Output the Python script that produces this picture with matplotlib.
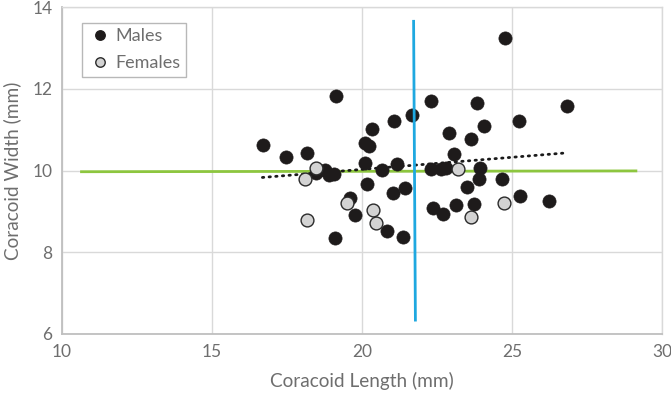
import matplotlib
matplotlib.use("Agg")
import matplotlib.pyplot as plt
from matplotlib.lines import Line2D

plt.rcParams['font.family'] = ['Lato', 'DejaVu Sans']

male_x = [16.69, 17.45, 18.16, 19.13, 20.11, 20.22, 20.34, 21.06, 21.67, 22.30,
          23.83, 24.77, 25.24, 24.08, 22.90, 23.63, 23.07, 26.82, 26.24,
          18.45, 18.75, 18.90, 19.08, 20.11, 20.67, 21.17, 20.16, 21.03, 21.44,
          19.61, 19.77, 20.84, 19.11, 21.38,
          22.30, 22.64, 22.80, 23.93, 23.91, 23.49, 24.67, 25.26, 22.36, 22.71,
          23.13, 23.74]
male_y = [10.63, 10.32, 10.44, 11.82, 10.68, 10.59, 11.02, 11.20, 11.36, 11.69,
          11.64, 13.24, 11.20, 11.09, 10.92, 10.77, 10.40, 11.57, 9.26,
          9.94, 10.01, 9.88, 9.92, 10.19, 10.02, 10.15, 9.67, 9.45, 9.56,
          9.32, 8.91, 8.53, 8.34, 8.37,
          10.04, 10.04, 10.07, 10.07, 9.80, 9.60, 9.78, 9.37, 9.09, 8.93,
          9.15, 9.19]

female_x = [18.48, 18.09, 19.51, 18.16, 20.38, 20.47, 23.20, 24.73, 23.63]
female_y = [10.05, 9.78, 9.21, 8.80, 9.04, 8.72, 10.04, 9.21, 8.87]

trend_x = [16.68, 26.80]
trend_y = [9.83, 10.43]
green_x = [10.65, 29.13]
green_y = [9.97, 9.99]
blue_x = [21.72, 21.78]
blue_y = [13.65, 6.34]

text_color = '#6e6e6e'

fig = plt.figure(figsize=(6.71, 3.94), dpi=100)
ax = fig.add_axes([62/671, 1-334/394, 600/671, 327/394])

ax.set_xlim(10, 30)
ax.set_ylim(6, 14)
ax.set_xticks([10, 15, 20, 25, 30])
ax.set_yticks([6, 8, 10, 12, 14])
ax.grid(True, color='#d9d9d9', linewidth=1.0)
ax.set_axisbelow(True)
for s in ['top', 'right']:
    ax.spines[s].set_color('#d9d9d9')
    ax.spines[s].set_linewidth(1.0)
for s in ['left', 'bottom']:
    ax.spines[s].set_color('#bfbfbf')
    ax.spines[s].set_linewidth(1.3)
ax.tick_params(length=0, labelsize=12.5, colors=text_color, pad=7)

ax.plot(green_x, green_y, color='#8dc63f', linewidth=2.0, zorder=3)
ax.plot(trend_x, trend_y, color='#1a1a1a', linewidth=2.0, linestyle=(0, (0.5, 1.9)),
        dash_capstyle='round', zorder=3)
ax.scatter(male_x, male_y, s=90, color='#1e1b1b', edgecolors='#1e1b1b', linewidths=0.5, zorder=4)
ax.scatter(female_x, female_y, s=85, color='#d3d3d3', edgecolors='#2a2a2a', linewidths=1.0, zorder=5)
ax.plot(blue_x, blue_y, color='#1fa8e0', linewidth=2.0, zorder=6)

ax.set_xlabel('Coracoid Length (mm)', fontsize=13.7, color=text_color, labelpad=9)
ax.set_ylabel('Coracoid Width (mm)', fontsize=13.7, color=text_color, labelpad=8)

handles = [Line2D([], [], marker='o', linestyle='none', markersize=6.8,
                  markerfacecolor='#1e1b1b', markeredgecolor='#1e1b1b'),
           Line2D([], [], marker='o', linestyle='none', markersize=6.8,
                  markerfacecolor='#d3d3d3', markeredgecolor='#2a2a2a')]
leg = ax.legend(handles, ['Males', 'Females'], loc='upper left',
                bbox_to_anchor=(20/600, 1-16/327), borderaxespad=0,
                fontsize=13, frameon=True,
                fancybox=False, edgecolor='#a6a6a6', handletextpad=0.15,
                handlelength=1.4, borderpad=0.3, labelspacing=0.6)
for t in leg.get_texts():
    t.set_color(text_color)
leg.get_frame().set_linewidth(1.0)

fig.savefig('out.png', dpi=100)
